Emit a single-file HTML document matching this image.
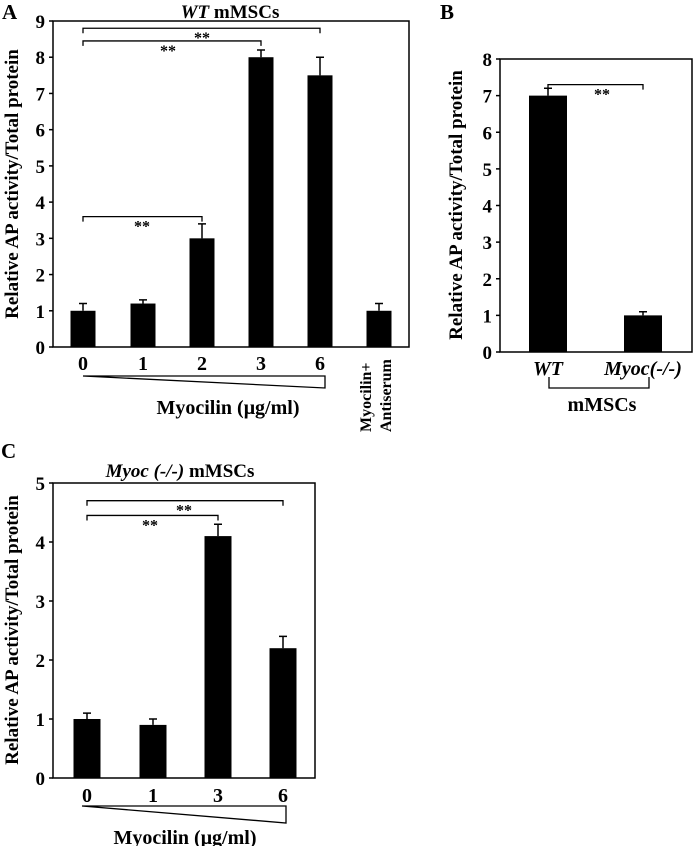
<!DOCTYPE html>
<html><head><meta charset="utf-8"><style>
body{margin:0;background:#fff}
svg text{font-family:"Liberation Serif",serif;font-weight:bold;fill:#000}
</style></head><body>
<svg id="fig" width="693" height="846" viewBox="0 0 693 846" xmlns="http://www.w3.org/2000/svg"></svg>
<script>
const aCats=["0","1","2","3","6","Myocilin+ Antiserum"];
const aVals=[1,1.2,3,8,7.5,1];
const aErrs=[0.2,0.1,0.4,0.2,0.5,0.2];
const aTicks=[0,1,2,3,4,5,6,7,8,9];
const bCats=["WT","Myoc(-/-)"];
const bVals=[7,1];
const bErrs=[0.2,0.1];
const bTicks=[0,1,2,3,4,5,6,7,8];
const cCats=["0","1","3","6"];
const cVals=[1,0.9,4.1,2.2];
const cErrs=[0.1,0.1,0.2,0.2];
const cTicks=[0,1,2,3,4,5];

const NS="http://www.w3.org/2000/svg";
const svg=document.getElementById('fig');
function mk(tag,attrs,parent,text){const e=document.createElementNS(NS,tag);for(const k in attrs)e.setAttribute(k,attrs[k]);if(text!==undefined)e.textContent=text;(parent||svg).appendChild(e);return e;}

function panel(p){
  const g=mk('g',{});
  
  
  const y=v=>p.y1-(v/p.max)*(p.y1-p.y0);
  const fr=mk('rect',{x:p.x0,y:p.y0,width:p.x1-p.x0,height:p.y1-p.y0,fill:'none',stroke:'#000','stroke-width':1.5},g);
  
  
  p.ticks.forEach(t=>{
    const l=mk('line',{x1:p.x0-4,x2:p.x0,y1:y(t),y2:y(t),stroke:'#000','stroke-width':1.5},g);
    
    
    const tx=mk('text',{x:p.x0-8,y:y(t)+7,'text-anchor':'end','font-size':19},g,String(t));
    
    
  });
  p.vals.forEach((v,i)=>{
    const cx=p.centers[i];
    const b=mk('rect',{x:cx-p.bw/2,y:y(v),width:p.bw,height:p.y1-y(v),fill:'#000'},g);
    
    
    const eT=y(v+p.errs[i]);
    const e=mk('path',{d:`M${cx},${y(v)} V${eT} M${cx-4},${eT} H${cx+4}`,stroke:'#000','stroke-width':1.5,fill:'none'},g);
    
    
  });
  p.sig.forEach(s=>{
    const yy=y(s[2]);const xa=p.centers[s[0]],xb=p.centers[s[1]];
    const br=mk('path',{d:`M${xa},${yy+5} V${yy} H${xb} V${yy+5}`,stroke:'#000','stroke-width':1.3,fill:'none'},g);
    
    
    const st=mk('text',{x:s[3],y:yy+15,'text-anchor':'middle','font-size':16},g,'**');
    
    
  });
  const yl=mk('text',{x:0,y:0,'text-anchor':'middle','font-size':19,transform:`translate(${p.ylx},${p.yly}) rotate(-90)`},g,'Relative AP activity/Total protein');
  
  
  return {g,y};
}

// Panel A
const A=panel({name:'panel-a',x0:53,x1:409,y0:21,y1:347,max:9,ticks:aTicks,vals:aVals,errs:aErrs,
  centers:[83,143,202,261,320,379],bw:25,ylx:18,yly:184,
  sig:[[0,4,8.8,202],[0,3,8.45,168],[0,2,3.6,142]]});
aCats.slice(0,5).forEach((c,i)=>{
  const t=mk('text',{x:[83,143,202,261,320][i],y:370,'text-anchor':'middle','font-size':20},A.g,c);
  
  
});
let t=mk('text',{x:0,y:0,'text-anchor':'start','font-size':16,transform:'translate(371,432) rotate(-90)'},A.g,'Myocilin+');

t=mk('text',{x:0,y:0,'text-anchor':'start','font-size':16,transform:'translate(391,432) rotate(-90)'},A.g,'Antiserum');

let tri=mk('path',{d:'M83,376 L325,376 L325,388 Z',fill:'none',stroke:'#000','stroke-width':1.3},A.g);

t=mk('text',{x:228,y:414,'text-anchor':'middle','font-size':20},A.g,'Myocilin (μg/ml)');

t=mk('text',{x:230,y:18,'text-anchor':'middle','font-size':19},A.g);
mk('tspan',{'font-style':'italic'},t,'WT');mk('tspan',{},t,' mMSCs');

t=mk('text',{x:2,y:19,'font-size':21},A.g,'A');


// Panel B
const B=panel({name:'panel-b',x0:500,x1:692,y0:59,y1:352,max:8,ticks:bTicks,vals:bVals,errs:bErrs,
  centers:[548,643],bw:38,ylx:462,yly:205,sig:[[0,1,7.3,602]]});
bCats.forEach((c,i)=>{
  const tt=mk('text',{x:[548,643][i],y:375,'text-anchor':'middle','font-size':20,'font-style':'italic'},B.g,c);
  
});
let bb=mk('path',{d:'M549,377 V388 H649 V377',fill:'none',stroke:'#000','stroke-width':1.3},B.g);

t=mk('text',{x:602,y:411,'text-anchor':'middle','font-size':20},B.g,'mMSCs');

t=mk('text',{x:440,y:19,'font-size':21},B.g,'B');


// Panel C
const C=panel({name:'panel-c',x0:53,x1:315,y0:483,y1:778,max:5,ticks:cTicks,vals:cVals,errs:cErrs,
  centers:[87,153,218,283],bw:27,ylx:18,yly:630,sig:[[0,3,4.7,184],[0,2,4.45,150]]});
cCats.forEach((c,i)=>{
  const tt=mk('text',{x:[87,153,218,283][i],y:802,'text-anchor':'middle','font-size':20},C.g,c);
  
});
tri=mk('path',{d:'M82,806 L286,806 L286,823 Z',fill:'none',stroke:'#000','stroke-width':1.3},C.g);

t=mk('text',{x:185,y:844,'text-anchor':'middle','font-size':20},C.g,'Myocilin (μg/ml)');

t=mk('text',{x:180,y:477,'text-anchor':'middle','font-size':19},C.g);
mk('tspan',{'font-style':'italic'},t,'Myoc (-/-)');mk('tspan',{},t,' mMSCs');

t=mk('text',{x:1,y:458,'font-size':21},C.g,'C');

</script>
</body></html>
